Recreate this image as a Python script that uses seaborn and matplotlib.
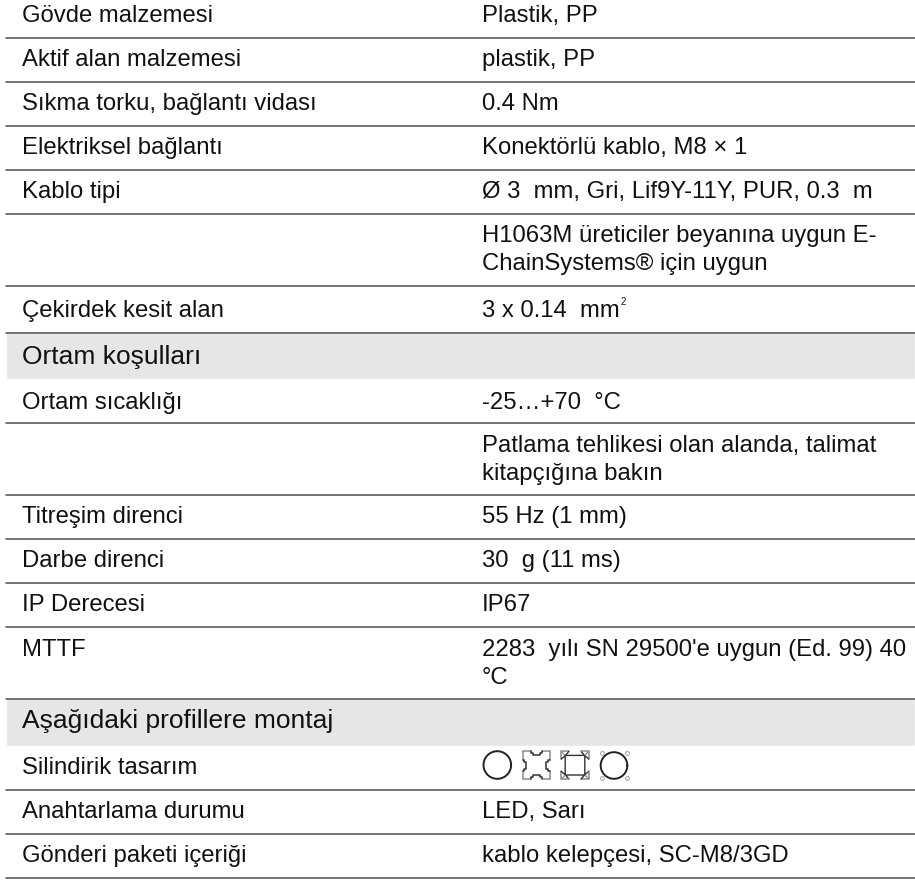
import matplotlib
matplotlib.use("Agg")
import matplotlib.pyplot as plt
import numpy as np
import pandas as pd
import seaborn as sns

# table content, one entry per row
labels = ["Gövde malzemesi", "Aktif alan malzemesi", "Sıkma torku, bağlantı vidası",
          "Elektriksel bağlantı", "Kablo tipi", "", "Çekirdek kesit alan",
          "Ortam koşulları", "Ortam sıcaklığı", "", "Titreşim direnci", "Darbe direnci",
          "IP Derecesi", "MTTF", "Aşağıdaki profillere montaj", "Silindirik tasarım",
          "Anahtarlama durumu", "Gönderi paketi içeriği"]
values = ["Plastik, PP", "plastik, PP", "0.4 Nm", "Konektörlü kablo, M8 × 1",
          "Ø 3  mm, Gri, Lif9Y-11Y, PUR, 0.3  m",
          "H1063M üreticiler beyanına uygun E-\nChainSystems® için uygun",
          "3 x 0.14  mm", "", "-25…+70  °C",
          "Patlama tehlikesi olan alanda, talimat\nkitapçığına bakın",
          "55 Hz (1 mm)", "30  g (11 ms)", "IP67",
          "2283  yılı SN 29500'e uygun (Ed. 99) 40\n°C", "", "", "LED, Sarı",
          "kablo kelepçesi, SC-M8/3GD"]
is_header = [False] * 7 + [True] + [False] * 6 + [True] + [False] * 3

# layout in pixels
row_bottoms = [38, 82, 126, 170, 214, 286, 333, 379, 423, 495, 539, 583, 627, 699, 746, 790, 834, 878]
baselines = [22, 66, 110, 154, 198, 242, 317, 364, 409, 452, 523, 567, 611, 656, 728, 774, 818, 862]
LEFT, RIGHT, COL2 = 6, 915, 482
LINE_GAP = 28.2

sns.set_theme(style="white")
plt.rcParams["font.family"] = ["Liberation Sans", "DejaVu Sans"]
TEXT = "#111111"

fig = plt.figure(figsize=(9.15, 8.8), dpi=100)
ax = fig.add_axes([0, 0, 1, 1])

# grey section bands
for i, head in enumerate(is_header):
    if head:
        top = row_bottoms[i - 1]
        sns.barplot(x=[RIGHT - LEFT], y=[(top + row_bottoms[i]) / 2], orient="y", native_scale=True,
                    width=row_bottoms[i] - top, left=LEFT, color="#e6e6e6", saturation=1, ax=ax)

# row rules, sections have none below them
rules = pd.DataFrame([{"row": i, "x": x, "y": row_bottoms[i]}
                      for i, head in enumerate(is_header) if not head
                      for x in (LEFT, RIGHT)])
sns.lineplot(data=rules, x="x", y="y", units="row", estimator=None, color="#4d4d4d", lw=1.1, ax=ax)

ax.set_xlim(0, 915)
ax.set_ylim(880, 0)
ax.set_axis_off()

for i, (lab, val) in enumerate(zip(labels, values)):
    size = 19 if is_header[i] else 17.2
    ax.text(22, baselines[i], lab, fontsize=size, color=TEXT, va="baseline")
    for k, part in enumerate(val.split("\n")):
        t = ax.text(COL2, baselines[i] + k * LINE_GAP, part, fontsize=17.2, color=TEXT, va="baseline")
        if part == "3 x 0.14  mm":
            ax.annotate("2", xy=(1, 0), xycoords=t, xytext=(0.3, 12), textcoords="offset points",
                        fontsize=7, color=TEXT, va="baseline")


def rotated(path, cx, cy, turn):
    c, s = np.cos(turn * np.pi / 2), np.sin(turn * np.pi / 2)
    return [cx + x * c - y * s for x, y in path], [cy + x * s + y * c for x, y in path]


def round_icon(cx, cy, r, corners=False):
    a = np.linspace(0, 2 * np.pi, 80)
    ax.plot(cx + r * np.cos(a), cy + r * np.sin(a), color="#222222", lw=1.4)
    if corners:
        for sx in (-1, 1):
            for sy in (-1, 1):
                ax.plot(cx + sx * 12.5, cy + sy * 12.5, "o", ms=2.8, mfc="white", mec="#aaaaaa", mew=0.8)


def notch_icon(cx, cy, h=13.7):
    # grey square, each side with a dark slot in the middle
    edge = [(-h, -h), (-5.5, -h)]
    slot = [(-5.5, -h), (-5.5, -h + 1.8), (-3.5, -h + 1.8), (-3.5, -h + 3.6), (3.5, -h + 3.6),
            (3.5, -h + 1.8), (5.5, -h + 1.8), (5.5, -h)]
    tail = [(5.5, -h), (h, -h)]
    for turn in range(4):
        for path, col in ((edge, "#8c8c8c"), (tail, "#8c8c8c"), (slot, "#333333")):
            ax.plot(*rotated(path, cx, cy, turn), color=col, lw=1.1)


def profile_icon(cx, cy, h=13.7):
    # grey corner brackets, dark inner edges cut in from each side
    corner = [(-h, -h + 7.5), (-h, -h), (-h + 7.5, -h)]
    diag = [(-h, -h), (-9.5, -9.5)]
    inner = [(-6.2, -h), (-9.5, -9.8), (9.5, -9.8), (6.2, -h)]
    for turn in range(4):
        ax.plot(*rotated(corner, cx, cy, turn), color="#8c8c8c", lw=1.1)
        ax.plot(*rotated(diag, cx, cy, turn), color="#8c8c8c", lw=0.9)
        ax.plot(*rotated(inner, cx, cy, turn), color="#333333", lw=1.0)


round_icon(497.3, 765, 13.8)
notch_icon(536.2, 765.2)
profile_icon(575, 765.2)
round_icon(614, 765.5, 13.3, corners=True)

fig.savefig("out.png", dpi=100)
